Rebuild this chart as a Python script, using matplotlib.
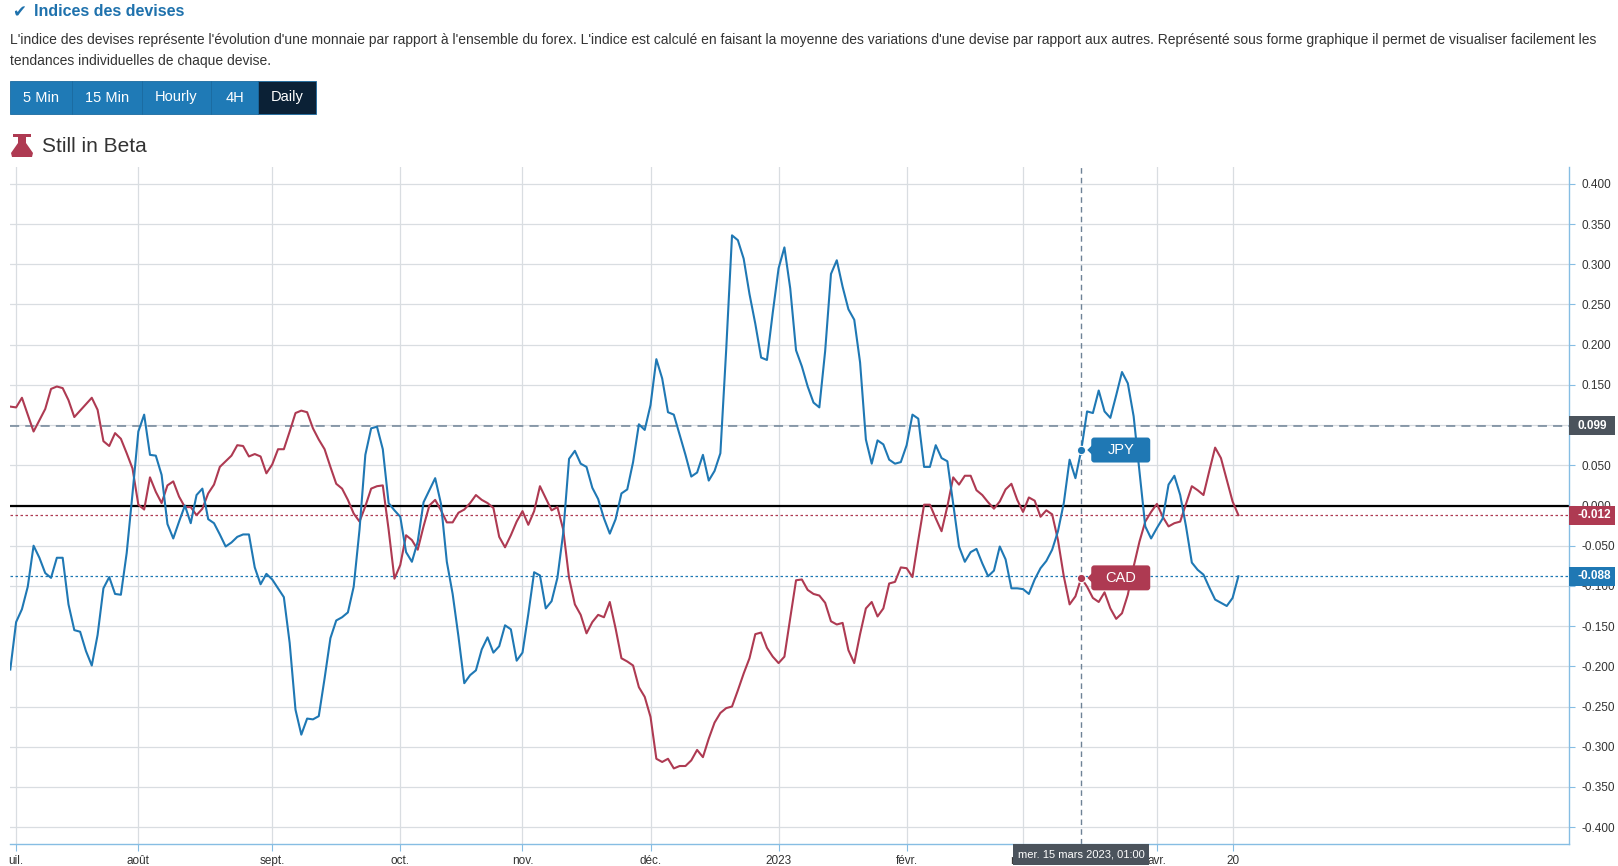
import numpy as np
import matplotlib.pyplot as plt
from matplotlib.patches import Rectangle, FancyBboxPatch, Polygon
from matplotlib.transforms import blended_transform_factory, IdentityTransform
from matplotlib.ticker import FuncFormatter

W, H = 1618, 866
plt.rcParams['font.family'] = ['Liberation Sans', 'DejaVu Sans']

# axe des x : un point par jour ouvré, index 0 = 30 juin 2022
month_labels = ['uil.', 'août', 'sept.', 'oct.', 'nov.', 'déc.', '2023', 'févr.', 'mars', 'avr.', '20']
month_days = [1, 22, 45, 67, 88, 110, 132, 154, 174, 197, 210]

jpy = [-0.204, -0.145, -0.129, -0.101, -0.050, -0.065, -0.084, -0.090, -0.065, -0.065,
       -0.123, -0.155, -0.157, -0.181, -0.199, -0.161, -0.103, -0.089, -0.110, -0.111,
       -0.059, 0.015, 0.092, 0.113, 0.063, 0.062, 0.038, -0.023, -0.041, -0.020,
       0.000, -0.022, 0.013, 0.021, -0.017, -0.022, -0.036, -0.051, -0.046, -0.039,
       -0.036, -0.036, -0.077, -0.098, -0.085, -0.092, -0.103, -0.114, -0.171, -0.254,
       -0.285, -0.265, -0.266, -0.262, -0.215, -0.165, -0.143, -0.139, -0.133, -0.101,
       -0.030, 0.063, 0.096, 0.098, 0.070, 0.003, -0.006, -0.014, -0.058, -0.070,
       -0.045, 0.004, 0.019, 0.034, 0.002, -0.070, -0.110, -0.163, -0.221, -0.211,
       -0.205, -0.179, -0.164, -0.183, -0.175, -0.149, -0.154, -0.193, -0.183, -0.135,
       -0.083, -0.087, -0.128, -0.119, -0.090, -0.034, 0.058, 0.068, 0.052, 0.048,
       0.022, 0.008, -0.016, -0.035, -0.017, 0.015, 0.020, 0.054, 0.101, 0.094,
       0.125, 0.182, 0.158, 0.116, 0.113, 0.088, 0.063, 0.036, 0.041, 0.063,
       0.031, 0.043, 0.065, 0.194, 0.336, 0.330, 0.307, 0.263, 0.226, 0.184,
       0.181, 0.240, 0.295, 0.321, 0.270, 0.193, 0.173, 0.148, 0.128, 0.122,
       0.192, 0.288, 0.305, 0.272, 0.244, 0.231, 0.178, 0.082, 0.052, 0.081,
       0.076, 0.057, 0.052, 0.054, 0.075, 0.113, 0.108, 0.048, 0.048, 0.075,
       0.059, 0.055, 0.002, -0.051, -0.070, -0.058, -0.054, -0.072, -0.088, -0.081,
       -0.051, -0.067, -0.103, -0.103, -0.104, -0.110, -0.092, -0.078, -0.069, -0.055,
       -0.032, 0.003, 0.057, 0.034, 0.069, 0.117, 0.115, 0.143, 0.117, 0.109,
       0.137, 0.166, 0.152, 0.111, 0.042, -0.026, -0.041, -0.028, -0.016, 0.026,
       0.037, 0.013, -0.026, -0.071, -0.080, -0.086, -0.102, -0.117, -0.121, -0.125,
       -0.115, -0.088]

cad = [0.123, 0.122, 0.134, 0.113, 0.092, 0.106, 0.120, 0.145, 0.148, 0.146,
       0.131, 0.110, 0.118, 0.126, 0.134, 0.119, 0.080, 0.074, 0.090, 0.083,
       0.065, 0.046, 0.001, -0.005, 0.035, 0.017, 0.003, 0.025, 0.030, 0.011,
       -0.002, -0.002, -0.012, -0.004, 0.015, 0.026, 0.048, 0.055, 0.062, 0.075,
       0.074, 0.061, 0.064, 0.061, 0.040, 0.051, 0.070, 0.070, 0.092, 0.115,
       0.118, 0.116, 0.096, 0.082, 0.070, 0.048, 0.027, 0.021, 0.007, -0.010,
       -0.020, -0.001, 0.021, 0.024, 0.025, -0.030, -0.091, -0.074, -0.037, -0.043,
       -0.055, -0.026, 0.000, 0.007, -0.006, -0.021, -0.021, -0.009, -0.005, 0.003,
       0.013, 0.007, 0.003, -0.003, -0.039, -0.052, -0.037, -0.020, -0.007, -0.024,
       -0.007, 0.024, 0.009, -0.006, -0.002, -0.030, -0.090, -0.123, -0.136, -0.159,
       -0.145, -0.136, -0.139, -0.120, -0.153, -0.190, -0.194, -0.199, -0.226, -0.238,
       -0.263, -0.315, -0.319, -0.315, -0.327, -0.324, -0.324, -0.317, -0.304, -0.313,
       -0.290, -0.270, -0.258, -0.252, -0.250, -0.230, -0.209, -0.190, -0.160, -0.158,
       -0.177, -0.188, -0.196, -0.188, -0.140, -0.093, -0.092, -0.105, -0.110, -0.112,
       -0.121, -0.144, -0.148, -0.146, -0.180, -0.196, -0.160, -0.128, -0.120, -0.138,
       -0.128, -0.097, -0.095, -0.077, -0.078, -0.089, -0.043, 0.001, 0.001, -0.016,
       -0.032, -0.001, 0.035, 0.026, 0.037, 0.037, 0.019, 0.013, 0.004, -0.004,
       0.005, 0.020, 0.027, 0.007, -0.008, 0.010, 0.006, -0.014, -0.006, -0.011,
       -0.043, -0.088, -0.123, -0.113, -0.090, -0.101, -0.115, -0.120, -0.108, -0.128,
       -0.141, -0.134, -0.111, -0.076, -0.045, -0.020, -0.008, 0.002, -0.014, -0.026,
       -0.022, -0.020, 0.002, 0.024, 0.019, 0.013, 0.043, 0.072, 0.059, 0.032,
       0.005, -0.012]

cursor_day = 184
cursor_level = 0.099
tooltip_text = 'mer. 15 mars 2023, 01:00'

BLUE = '#1f78b4'
RED = '#ae3a52'
TITLE_BLUE = '#1f72ad'
AXIS_BLUE = '#86bde3'
GRID = '#d9dde1'
CROSS = '#6e8296'
TXT = '#333333'


def fx(x):
    return x / W


def fy(y):
    return 1 - y / H


fig = plt.figure(figsize=(W / 100, H / 100), dpi=100)

# --- en-tête de la page ---
fig.text(fx(12), fy(12), '✔', color=TITLE_BLUE, fontsize=12, va='center', family=['DejaVu Sans'])
fig.text(fx(34), fy(12), 'Indices des devises', color=TITLE_BLUE, fontsize=11.5,
         fontweight='bold', va='center')
fig.text(fx(10), fy(40), "L'indice des devises représente l'évolution d'une monnaie par rapport à "
         "l'ensemble du forex. L'indice est calculé en faisant la moyenne des variations d'une devise "
         "par rapport aux autres. Représenté sous forme graphique il permet de visualiser facilement les",
         color=TXT, fontsize=10, va='center')
fig.text(fx(10), fy(61), 'tendances individuelles de chaque devise.', color=TXT, fontsize=10, va='center')

buttons = ['5 Min', '15 Min', 'Hourly', '4H', 'Daily']
edges = [10, 72, 142, 211, 258, 316]
for k, name in enumerate(buttons):
    x0, x1 = edges[k], edges[k + 1]
    col = '#0b2136' if name == 'Daily' else '#1f7ab6'
    fig.add_artist(Rectangle((x0, H - 114), x1 - x0, 33, transform=IdentityTransform(),
                             facecolor=col, edgecolor='#1a6aa0', lw=0.6))
    fig.text(fx((x0 + x1) / 2), fy(97.5), name, color='white', fontsize=10.5, ha='center', va='center')

flask = [(13, 134), (31, 134), (31, 137), (26, 137), (26, 143), (33, 153), (32, 157),
         (12, 157), (11, 153), (18, 143), (18, 137), (13, 137)]
fig.add_artist(Polygon([(x, H - y) for x, y in flask], closed=True, transform=IdentityTransform(),
                       facecolor=RED, edgecolor='none'))
fig.text(fx(42), fy(146), 'Still in Beta', color=TXT, fontsize=15, va='center')

# --- graphique ---
ax = fig.add_axes([10 / W, 22 / H, 1559 / W, 677 / H])
days = np.arange(len(jpy))

ax.set_xlim(-0.05, 267.8)
ax.set_ylim(-0.421, 0.421)
ax.set_yticks(np.arange(-0.4, 0.4001, 0.05))
ax.yaxis.set_major_formatter(FuncFormatter(lambda v, p: f'{round(v, 3) + 0:.3f}'))
ax.set_xticks(month_days)
ax.set_xticklabels(month_labels)
ax.yaxis.tick_right()
ax.grid(True, color=GRID, lw=0.9)
ax.set_axisbelow(True)
for s in ['top', 'left']:
    ax.spines[s].set_visible(False)
for s in ['right', 'bottom']:
    ax.spines[s].set_color(AXIS_BLUE)
    ax.spines[s].set_linewidth(1)
ax.tick_params(axis='y', length=4, color=AXIS_BLUE, labelcolor=TXT, labelsize=8.5, pad=5)
ax.tick_params(axis='x', length=5, color=AXIS_BLUE, labelcolor=TXT, labelsize=8.5, pad=3)

ax.axhline(0, color='black', lw=1.6, zorder=2)
ax.axhline(cursor_level, color=CROSS, lw=1.1, ls=(0, (6, 4)), zorder=2)
ax.axhline(cad[-1], color=RED, lw=0.9, ls=(0, (2, 2)), zorder=2)
ax.axhline(jpy[-1], color=BLUE, lw=0.9, ls=(0, (2, 2)), zorder=2)
ax.axvline(cursor_day, color=CROSS, lw=1, ls=(0, (4, 3)), zorder=2)

ax.plot(days, cad, color=RED, lw=1.5, zorder=3)
ax.plot(days, jpy, color=BLUE, lw=1.5, zorder=3)
ax.plot(cursor_day, jpy[cursor_day], 'o', ms=6, color=BLUE, mec='white', mew=0.8, zorder=5)
ax.plot(cursor_day, cad[cursor_day], 'o', ms=6, color=RED, mec='white', mew=0.8, zorder=5)

# étiquettes de valeur sur l'axe de droite
ytrans = blended_transform_factory(fig.transFigure, ax.transData)
half = 9.5 / 804
for val, col in [(cursor_level, '#4b535c'), (cad[-1], RED), (jpy[-1], BLUE)]:
    fig.add_artist(Rectangle((1569 / W, val - half), 46 / W, 2 * half, transform=ytrans,
                             facecolor=col, edgecolor='none', zorder=5))
    fig.text(1577 / W, val, f'{val:.3f}', transform=ytrans, color='white', fontsize=8.5,
             fontweight='bold', va='center', zorder=6)

# étiquettes des séries au curseur
for name, series, col in [('JPY', jpy, BLUE), ('CAD', cad, RED)]:
    px, py = ax.transData.transform((cursor_day, series[cursor_day]))
    bx = px + 10
    fig.add_artist(FancyBboxPatch((bx, py - 12.5), 59, 25, boxstyle='round,pad=0,rounding_size=3',
                                  transform=IdentityTransform(), facecolor=col, edgecolor='none', zorder=6))
    fig.add_artist(Polygon([(bx + 1, py - 5), (bx - 4, py), (bx + 1, py + 5)], closed=True,
                           transform=IdentityTransform(), facecolor=col, edgecolor='none', zorder=6))
    fig.text(fx(bx + 29.5), py / H, name, color='white', fontsize=10.5, ha='center', va='center', zorder=7)

# info-bulle de date
cx = ax.transData.transform((cursor_day, 0))[0]
fig.add_artist(Rectangle((cx - 68, 1), 136, 21, transform=IdentityTransform(),
                         facecolor='#4b535c', edgecolor='none', zorder=6))
fig.text(fx(cx), 11.5 / H, tooltip_text, color='white', fontsize=8, ha='center', va='center', zorder=7)

fig.savefig('out.png', dpi=100)
